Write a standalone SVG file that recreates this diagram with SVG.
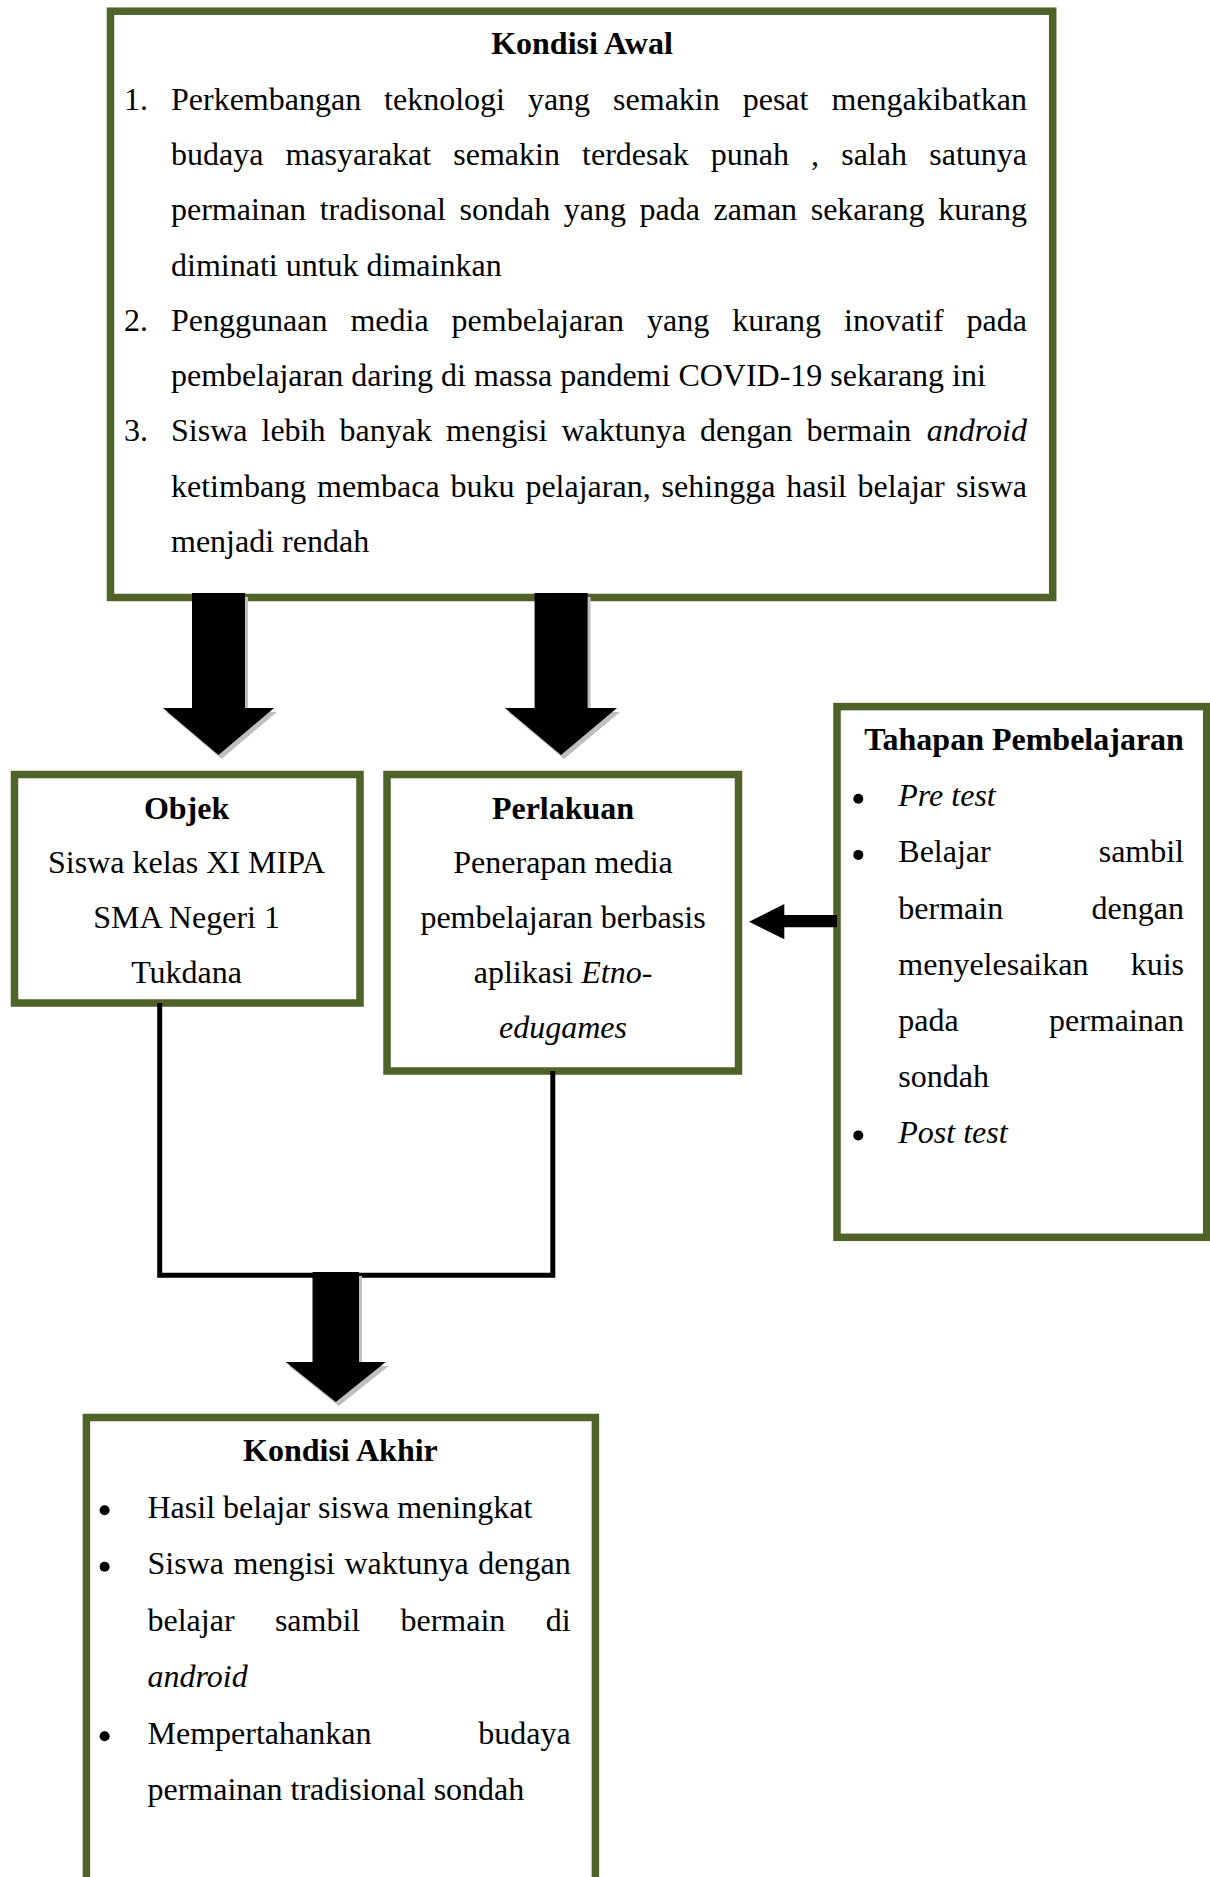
<svg xmlns="http://www.w3.org/2000/svg" width="1210" height="1877" viewBox="0 0 1210 1877">
<style>
.t{font-family:"Liberation Serif","Times New Roman",serif;font-size:32px;fill:#000}
.b{font-weight:bold}
.i{font-style:italic}
.m{text-anchor:middle}
.e{text-anchor:end}
.box{fill:#fff;stroke:#4F6228;stroke-width:7.5}
.sh{fill:#bfbfbf}
.ar{fill:#000}
.ln{fill:none;stroke:#000;stroke-width:5}
</style>
<rect width="1210" height="1877" fill="#fff"/>

<g id="kondisi-awal">
<rect class="box" x="110.5" y="11.2" width="942.2" height="586.3"/>
<g transform="translate(0,2.4)">
<text class="t b m" x="582" y="52">Kondisi Awal</text>
<text class="t" x="124" y="107.3">1.</text>
<text class="t" y="107.3"><tspan x="171">Perkembangan</tspan><tspan x="384.1">teknologi</tspan><tspan x="527.9">yang</tspan><tspan x="613.1">semakin</tspan><tspan x="742.7">pesat</tspan></text>
<text class="t e" x="1027" y="107.3">mengakibatkan</text>
<text class="t" y="162.6"><tspan x="171">budaya</tspan><tspan x="285.5">masyarakat</tspan><tspan x="453.3">semakin</tspan><tspan x="582.1">terdesak</tspan><tspan x="710.8">punah</tspan><tspan x="811.1">,</tspan><tspan x="841.2">salah</tspan></text>
<text class="t e" x="1027" y="162.6">satunya</text>
<text class="t" y="217.9"><tspan x="171">permainan</tspan><tspan x="319.7">tradisonal</tspan><tspan x="459.5">sondah</tspan><tspan x="563.8">yang</tspan><tspan x="639.6">pada</tspan><tspan x="713.6">zaman</tspan><tspan x="810.7">sekarang</tspan></text>
<text class="t e" x="1027" y="217.9">kurang</text>
<text class="t" x="171" y="273.2">diminati untuk dimainkan</text>
<text class="t" x="124" y="328.5">2.</text>
<text class="t" y="328.5"><tspan x="171">Penggunaan</tspan><tspan x="350.4">media</tspan><tspan x="451.6">pembelajaran</tspan><tspan x="647">yang</tspan><tspan x="732.2">kurang</tspan><tspan x="844.1">inovatif</tspan></text>
<text class="t e" x="1027" y="328.5">pada</text>
<text class="t" x="171" y="383.8">pembelajaran daring di massa pandemi COVID-19 sekarang ini</text>
<text class="t" x="124" y="439.1">3.</text>
<text class="t" y="439.1"><tspan x="171">Siswa</tspan><tspan x="261.5">lebih</tspan><tspan x="339.6">banyak</tspan><tspan x="446.1">mengisi</tspan><tspan x="561.5">waktunya</tspan><tspan x="700">dengan</tspan><tspan x="806.5">bermain</tspan></text>
<text class="t i e" x="1027" y="439.1">android</text>
<text class="t" y="494.4"><tspan x="171">ketimbang</tspan><tspan x="317">membaca</tspan><tspan x="450.5">buku</tspan><tspan x="525.4">pelajaran,</tspan><tspan x="661.6">sehingga</tspan><tspan x="786.3">hasil</tspan><tspan x="857.6">belajar</tspan></text>
<text class="t e" x="1027" y="494.4">siswa</text>
<text class="t" x="171" y="549.7">menjadi rendah</text>
</g>
</g>

<g id="objek">
<rect class="box" x="14.5" y="774.5" width="345.5" height="228.5"/>
<text class="t b m" x="186.6" y="819.2">Objek</text>
<text class="t m" x="186.6" y="873.2">Siswa kelas XI MIPA</text>
<text class="t m" x="186.6" y="928.2">SMA Negeri 1</text>
<text class="t m" x="186.6" y="983.2">Tukdana</text>
</g>

<g id="perlakuan">
<rect class="box" x="387" y="774.5" width="351.5" height="296.5"/>
<text class="t b m" x="563" y="819.2">Perlakuan</text>
<text class="t m" x="563" y="873.2">Penerapan media</text>
<text class="t m" x="563" y="928.2">pembelajaran berbasis</text>
<text class="t m" x="563" y="983.2">aplikasi <tspan class="i">Etno-</tspan></text>
<text class="t i m" x="563" y="1038.2">edugames</text>
</g>

<g id="tahapan-pembelajaran">
<rect class="box" x="837" y="706.6" width="369.7" height="530.7"/>
<text class="t b m" x="1024" y="750.2">Tahapan Pembelajaran</text>
<circle cx="858.3" cy="798.8" r="5"/>
<text class="t i" x="898.3" y="806.3">Pre test</text>
<circle cx="858.3" cy="854.9" r="5"/>
<text class="t" x="898.3" y="862.4">Belajar</text>
<text class="t e" x="1184" y="862.4">sambil</text>
<text class="t" x="898.3" y="918.5">bermain</text>
<text class="t e" x="1184" y="918.5">dengan</text>
<text class="t" x="898.3" y="974.6">menyelesaikan</text>
<text class="t e" x="1184" y="974.6">kuis</text>
<text class="t" x="898.3" y="1030.7">pada</text>
<text class="t e" x="1184" y="1030.7">permainan</text>
<text class="t" x="898.3" y="1086.8">sondah</text>
<circle cx="858.3" cy="1135.4" r="5"/>
<text class="t i" x="898.3" y="1142.9">Post test</text>
</g>

<g id="kondisi-akhir">
<rect class="box" x="86.4" y="1417.5" width="509" height="520"/>
<text class="t b m" x="340.4" y="1461.2">Kondisi Akhir</text>
<circle cx="104.6" cy="1510.2" r="5"/>
<text class="t" x="147.5" y="1517.7">Hasil belajar siswa meningkat</text>
<circle cx="104.6" cy="1566.7" r="5"/>
<text class="t" y="1574.2"><tspan x="147.5">Siswa</tspan><tspan x="233.5">mengisi</tspan><tspan x="344.4">waktunya</tspan></text>
<text class="t e" x="570.7" y="1574.2">dengan</text>
<text class="t" y="1630.7"><tspan x="147.5">belajar</tspan><tspan x="274.9">sambil</tspan><tspan x="400.5">bermain</tspan></text>
<text class="t e" x="570.7" y="1630.7">di</text>
<text class="t i" x="147.5" y="1687.2">android</text>
<circle cx="104.6" cy="1736.2" r="5"/>
<text class="t" x="147.5" y="1743.7">Mempertahankan</text>
<text class="t e" x="570.7" y="1743.7">budaya</text>
<text class="t" x="147.5" y="1800.2">permainan tradisional sondah</text>
</g>

<g id="connectors">
<path class="ln" d="M159.7,1003 V1275.3 H552.8 V1071"/>
<g transform="translate(3,4)">
<path class="sh" d="M192,593 H245 V708 H274 L218.5,755 L163,708 H192 Z"/>
<path class="sh" d="M534.6,593 H587.6 V708 H617 L561,755 L505,708 H534.6 Z"/>
<path class="sh" d="M312.5,1272 H359 V1362 H385.7 L335.8,1402 L285.7,1362 H312.5 Z"/>
</g>
<path class="ar" d="M192,593 H245 V708 H274 L218.5,755 L163,708 H192 Z"/>
<path class="ar" d="M534.6,593 H587.6 V708 H617 L561,755 L505,708 H534.6 Z"/>
<path class="ar" d="M312.5,1272 H359 V1362 H385.7 L335.8,1402 L285.7,1362 H312.5 Z"/>
<path class="ar" d="M837,915 V927.3 H784.3 V939.3 L749,921.7 L784.3,904 V915 Z"/>
</g>
</svg>
